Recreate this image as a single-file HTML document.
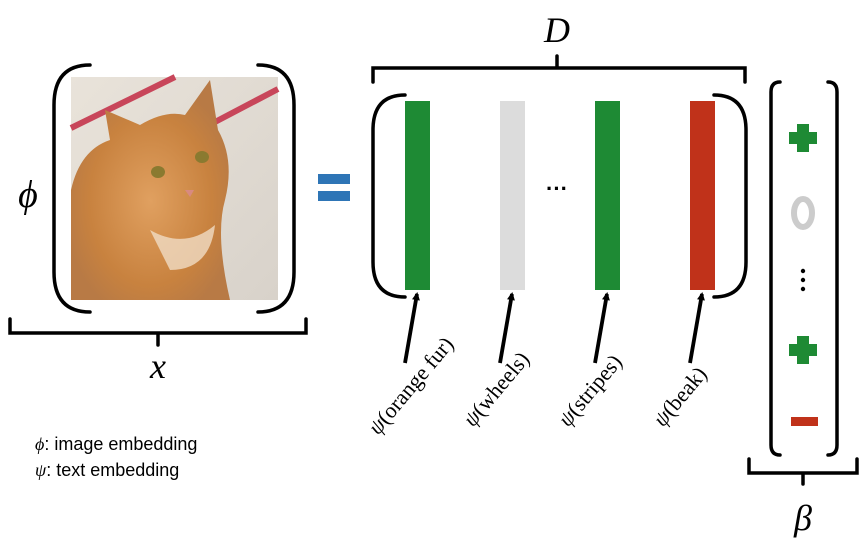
<!DOCTYPE html>
<html><head><meta charset="utf-8"><style>
html,body{margin:0;padding:0;background:#fff;width:862px;height:551px;overflow:hidden}
svg{display:block}
.m{font-family:"Liberation Serif",serif;font-style:italic}
</style></head><body>
<svg id="s" width="862" height="551" viewBox="0 0 862 551">
<defs>
<marker id="ah" markerWidth="8" markerHeight="8" refX="6" refY="4" orient="auto" markerUnits="userSpaceOnUse"><path d="M0,0 L8,4 L0,8 Z" fill="#000"/></marker>
<linearGradient id="bg" x1="0" y1="0" x2="1" y2="1"><stop offset="0" stop-color="#e9e3da"/><stop offset="1" stop-color="#d8d2ca"/></linearGradient>
<radialGradient id="cat" cx="0.5" cy="0.55" r="0.55"><stop offset="0" stop-color="#e0a060"/><stop offset="0.7" stop-color="#c8823f"/><stop offset="1" stop-color="#b87a45"/></radialGradient>
</defs>
<g>
<rect x="71" y="77" width="207" height="223" fill="url(#bg)"/>
<line x1="71" y1="128" x2="175" y2="77" stroke="#c8465a" stroke-width="6"/>
<line x1="215" y1="122" x2="278" y2="89" stroke="#c8465a" stroke-width="6"/>
<path d="M71,190 Q80,150 110,140 L105,110 L140,125 Q165,110 185,115 L210,80 L218,130 Q235,160 225,200 Q215,235 230,300 L71,300 Z" fill="url(#cat)"/>
<ellipse cx="158" cy="172" rx="7" ry="6" fill="#8a7a30"/>
<ellipse cx="202" cy="157" rx="7" ry="6" fill="#8a7a30"/>
<path d="M185,190 L194,190 L190,197 Z" fill="#d88a80"/>
<path d="M150,230 Q185,250 215,225 Q210,270 170,270 Z" fill="#f0dcc4" opacity="0.8"/>
</g>
<g fill="none" stroke="#000" stroke-width="3.5" stroke-linecap="round">
<path d="M90,65 Q54,65 54,105 L54,272 Q54,312 90,312"/>
<path d="M258,65 Q294,65 294,105 L294,272 Q294,312 258,312"/>
<path d="M10,319 L10,333 L306,333 L306,319 M158,333 L158,345"/>
<path d="M373,82 L373,68 L745,68 L745,82 M557,68 L557,56"/>
<path d="M405,95 Q373,95 373,130 L373,262 Q373,297 405,297"/>
<path d="M714,95 Q746,95 746,130 L746,262 Q746,297 714,297"/>
<path d="M780,82 Q771,82 771,92 L771,445 Q771,455 780,455"/>
<path d="M828,82 Q837,82 837,92 L837,445 Q837,455 828,455"/>
<path d="M749,459 L749,473 L857,473 L857,459 M803,473 L803,484"/>
</g>
<text class="m" x="28" y="207" font-size="38" text-anchor="middle">ϕ</text>
<text class="m" x="158" y="378" font-size="36" text-anchor="middle">x</text>
<text class="m" x="557" y="42" font-size="36" text-anchor="middle">D</text>
<text class="m" x="803" y="530" font-size="36" text-anchor="middle">β</text>
<g fill="#2e75b6">
<rect x="318" y="174" width="32" height="10"/><rect x="318" y="191" width="32" height="10"/>
</g>
<g id="bars"></g>
<text x="557" y="196" font-size="22" font-family="Liberation Sans,sans-serif" font-weight="bold" text-anchor="middle">···</text>
<g>
<path d="M797,124 h12 v8 h8 v12 h-8 v8 h-12 v-8 h-8 v-12 h8 Z" fill="#1e8a34"/>
<ellipse cx="803" cy="213" rx="9" ry="14" fill="none" stroke="#ccc" stroke-width="6"/>
<circle cx="803" cy="271" r="2.2" fill="#000"/><circle cx="803" cy="280" r="2.2" fill="#000"/><circle cx="803" cy="289" r="2.2" fill="#000"/>
<path d="M797,336 h12 v8 h8 v12 h-8 v8 h-12 v-8 h-8 v-12 h8 Z" fill="#1e8a34"/>
<rect x="791" y="417" width="27" height="9" fill="#c0321a"/>
</g>
<text x="35" y="450" font-size="18" font-family="Liberation Sans,sans-serif"><tspan class="m">ϕ</tspan>: image embedding</text>
<text x="35" y="476" font-size="18" font-family="Liberation Sans,sans-serif"><tspan class="m">ψ</tspan>: text embedding</text>
</svg>
<script>
const concepts=['orange fur','wheels','stripes','beak'];
const colors=['#1e8a34','#dcdcdc','#1e8a34','#c0321a'];
const barX=[405,500,595,690];
const g=document.getElementById('bars');
const NS='http://www.w3.org/2000/svg';
concepts.forEach((c,i)=>{
  const x=barX[i];
  const r=document.createElementNS(NS,'rect');
  r.setAttribute('x',x);r.setAttribute('y',101);r.setAttribute('width',25);r.setAttribute('height',189);r.setAttribute('fill',colors[i]);
  
  
  g.appendChild(r);
  const l=document.createElementNS(NS,'line');
  l.setAttribute('x1',x);l.setAttribute('y1',363);l.setAttribute('x2',x+12);l.setAttribute('y2',294);
  l.setAttribute('stroke','#000');l.setAttribute('stroke-width',3.8);l.setAttribute('marker-end','url(#ah)');
  
  
  g.appendChild(l);
  const tx=x-27, ty=i===0?436:428;
  const t=document.createElementNS(NS,'text');
  t.setAttribute('x',tx);t.setAttribute('y',ty);
  t.setAttribute('transform','rotate(-50 '+tx+' '+ty+')');
  t.setAttribute('font-family','Liberation Serif,serif');t.setAttribute('font-size','22');
  
  
  t.innerHTML='<tspan font-style="italic">ψ</tspan>('+c+')';
  g.appendChild(t);
});
</script>
</body></html>
